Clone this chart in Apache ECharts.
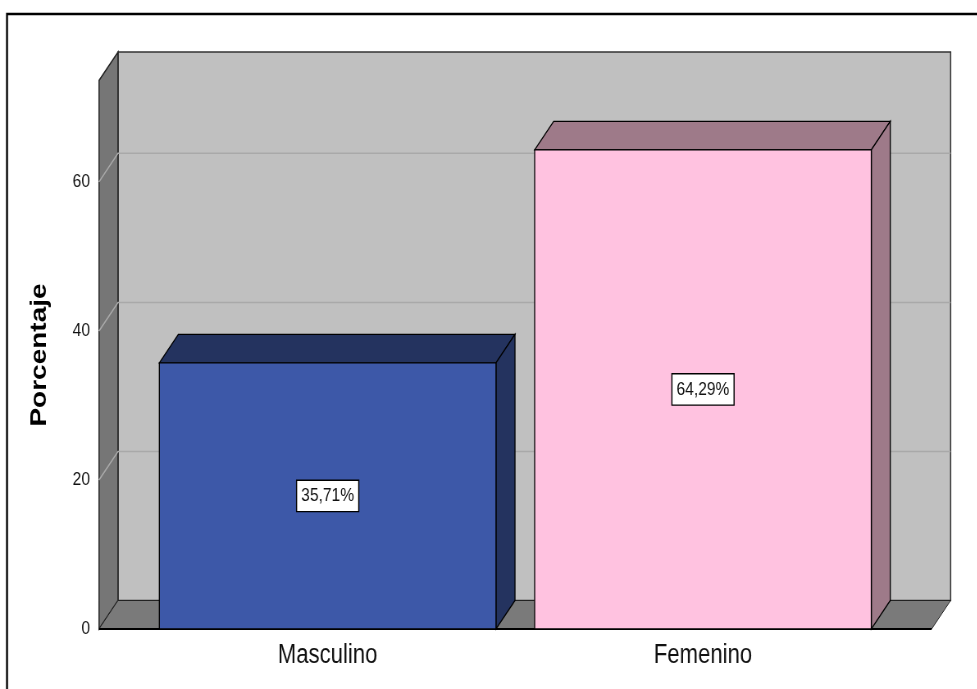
<!DOCTYPE html>
<html>
<head>
<meta charset="utf-8">
<script src="https://cdn.jsdelivr.net/npm/echarts@6/dist/echarts.min.js"></script>
<style>
  html, body { margin: 0; padding: 0; background: #fff; overflow: hidden; }
  #wrap { width: 977px; height: 689px; overflow: hidden; }
  /* la imagen original está comprimida en horizontal: se dibuja más ancha y se escala */
  #chart { width: 1191px; height: 689px; transform: scaleX(0.82); transform-origin: 0 0; }
</style>
</head>
<body>
<div id="wrap"><div id="chart"></div></div>
<script>
// datos
const categories = ['Masculino', 'Femenino'];
const percentages = [35.71, 64.29];
const percentLabels = ['35,71%', '64,29%'];
const yTicks = [0, 20, 40, 60];

// colores de cada barra: cara frontal / caras laterales
const frontColors = ['#3d58a8', '#ffc2e0'];
const sideColors = ['#24335f', '#9e7a89'];

const sx = 0.82;
// profundidad del efecto 3D (en px sin escalar)
const depthX = 19 / sx;
const depthY = 28.5;
const extend = 41 / sx;

const font = '"Liberation Sans", Arial, sans-serif';

const chart = echarts.init(document.getElementById('chart'));

// paredes y suelo
function renderWalls(params, api) {
  const cs = params.coordSys;
  const left = cs.x - extend;
  const right = cs.x + cs.width + extend;
  const top = cs.y;
  const bottom = cs.y + cs.height;
  const children = [];

  // pared de fondo
  children.push({
    type: 'polygon',
    shape: { points: [[left + depthX, top - depthY], [right + depthX, top - depthY], [right + depthX, bottom - depthY], [left + depthX, bottom - depthY]] },
    style: { fill: '#c0c0c0', stroke: '#333', lineWidth: 1.5 }
  });
  // pared izquierda
  children.push({
    type: 'polygon',
    shape: { points: [[left, top], [left + depthX, top - depthY], [left + depthX, bottom - depthY], [left, bottom]] },
    style: { fill: '#767676', stroke: '#222', lineWidth: 1.5 }
  });
  // suelo
  children.push({
    type: 'polygon',
    shape: { points: [[left, bottom], [left + depthX, bottom - depthY], [right + depthX, bottom - depthY], [right, bottom]] },
    style: { fill: '#7a7a7a', stroke: '#222', lineWidth: 1 }
  });
  children.push({
    type: 'line',
    shape: { x1: left, y1: bottom, x2: right, y2: bottom },
    style: { stroke: '#000', lineWidth: 2 }
  });

  // líneas de cuadrícula
  yTicks.slice(1).forEach(v => {
    const y = api.coord([0, v])[1];
    children.push({
      type: 'polyline',
      shape: { points: [[left, y], [left + depthX, y - depthY], [right + depthX, y - depthY]] },
      style: { stroke: '#a9a9a9', lineWidth: 1.5, fill: null }
    });
  });
  return { type: 'group', children: children };
}

// barras 3D
function renderBar(params, api) {
  const idx = api.value(0);
  const top = api.coord([idx, api.value(1)]);
  const base = api.coord([idx, 0]);
  const w = api.size([1, 0])[0] * 0.897;
  const xL = top[0] - w / 2;
  const xR = top[0] + w / 2;
  const yT = top[1];
  const yB = base[1];
  const i = params.dataIndex;
  const edge = { stroke: '#000', lineWidth: 1.3 };
  return {
    type: 'group',
    children: [
      {
        type: 'polygon',
        shape: { points: [[xL, yT], [xL + depthX, yT - depthY], [xR + depthX, yT - depthY], [xR, yT]] },
        style: Object.assign({ fill: sideColors[i] }, edge)
      },
      {
        type: 'polygon',
        shape: { points: [[xR, yT], [xR + depthX, yT - depthY], [xR + depthX, yB - depthY], [xR, yB]] },
        style: Object.assign({ fill: sideColors[i] }, edge)
      },
      {
        type: 'rect',
        shape: { x: xL, y: yT, width: w, height: yB - yT },
        style: Object.assign({ fill: frontColors[i] }, edge),
        textContent: {
          style: {
            text: percentLabels[i],
            font: '19px ' + font,
            fill: '#111',
            backgroundColor: '#fff',
            borderColor: '#000',
            borderWidth: 1.4,
            padding: [6, 5, 5, 5]
          }
        },
        textConfig: { position: 'inside' }
      }
    ]
  };
}

chart.setOption({
  animation: false,
  grid: { left: 140 / sx, right: 86 / sx, top: 80.5, bottom: 60 },
  xAxis: {
    type: 'category',
    data: categories,
    axisLine: { show: false },
    axisTick: { show: false },
    axisLabel: { margin: 13, fontSize: 27, fontFamily: font, color: '#111' }
  },
  yAxis: {
    type: 'value',
    min: 0,
    max: 73.6,
    interval: 20,
    axisLine: { show: false },
    axisTick: { show: false },
    splitLine: { show: false },
    axisLabel: {
      margin: 50 / sx,
      fontSize: 19,
      fontFamily: font,
      color: '#111',
      showMaxLabel: false
    }
  },
  series: [
    {
      type: 'custom',
      renderItem: renderWalls,
      data: [[0, 0]],
      z: 1,
      silent: true
    },
    {
      type: 'custom',
      renderItem: renderBar,
      data: percentages.map((v, i) => [i, v]),
      z: 2
    }
  ],
  graphic: [
    {
      type: 'rect',
      shape: { x: 7 / sx, y: 14, width: 1400, height: 700 },
      style: { fill: null, stroke: '#000', lineWidth: 2.4 },
      z: 0
    },
    {
      type: 'text',
      x: 40 / sx,
      y: 355,
      rotation: Math.PI / 2,
      style: {
        text: 'Porcentaje',
        font: 'bold 28px ' + font,
        fill: '#000',
        align: 'center',
        verticalAlign: 'middle'
      }
    }
  ]
});
</script>
</body>
</html>
